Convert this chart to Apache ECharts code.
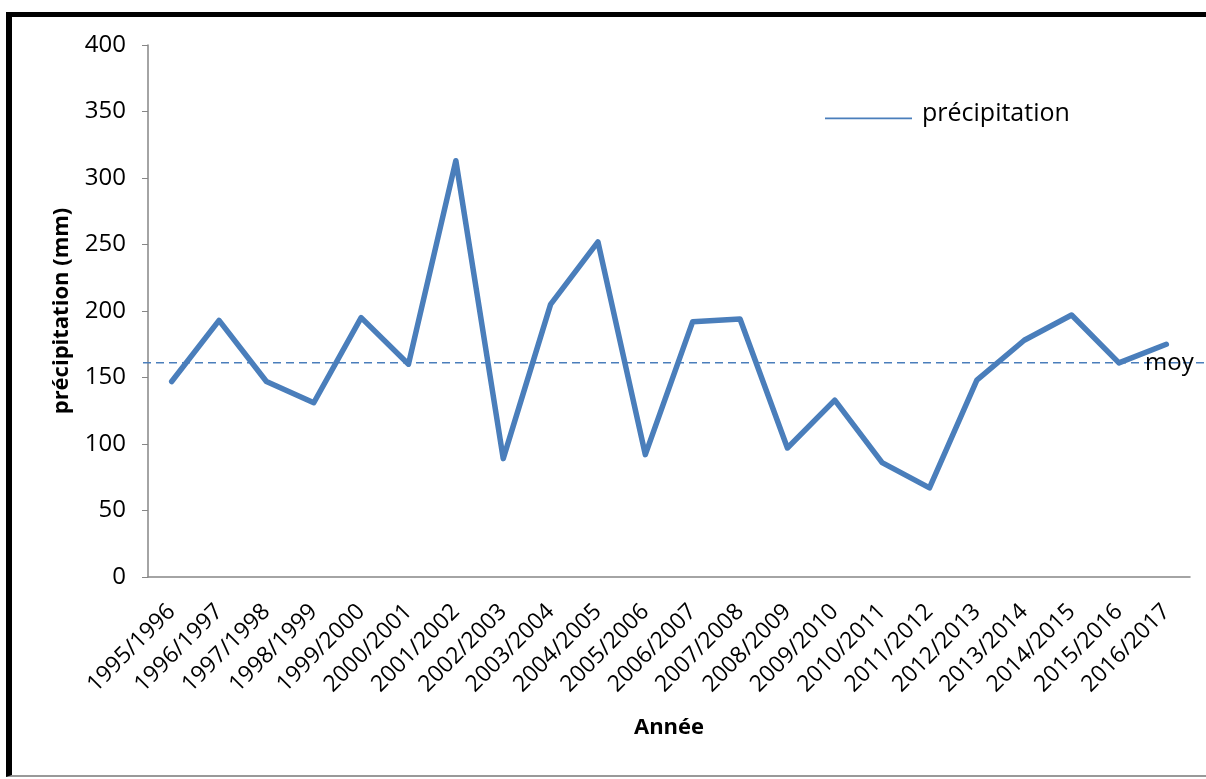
<!DOCTYPE html>
<html>
<head>
<meta charset="utf-8">
<script src="https://cdn.jsdelivr.net/npm/echarts@6/dist/echarts.min.js"></script>
<style>
  html, body { margin: 0; padding: 0; background: #ffffff; }
  #wrap { position: relative; width: 1206px; height: 779px; overflow: hidden; background: #fff; }
  #chart { position: absolute; left: 0; top: 0; width: 1206px; height: 779px; }
  #frame { position: absolute; left: 6px; top: 12px; width: 1300px; height: 765px;
           border-left: 6px solid #000; border-top: 5px solid #000; border-bottom: 2px solid #999;
           box-sizing: border-box; pointer-events: none; }
</style>
</head>
<body>
<div id="wrap">
  <div id="chart"></div>
  <div id="frame"></div>
</div>
<script>
const categories = ['1995/1996','1996/1997','1997/1998','1998/1999','1999/2000','2000/2001','2001/2002','2002/2003','2003/2004','2004/2005','2005/2006','2006/2007','2007/2008','2008/2009','2009/2010','2010/2011','2011/2012','2012/2013','2013/2014','2014/2015','2015/2016','2016/2017'];
const precipitation = [147, 193, 147, 131, 195, 160, 313, 89, 205, 252, 92, 192, 194, 97, 133, 86, 67, 148, 178, 197, 161, 175];
const moyenne = 161;
const yTicks = { min: 0, max: 400, interval: 50 };

const FONT = '"Open Sans", "Liberation Sans", sans-serif';
const chart = echarts.init(document.getElementById('chart'), null, { renderer: 'canvas' });
chart.setOption({
  animation: false,
  backgroundColor: '#ffffff',
  textStyle: { fontFamily: FONT },
  grid: [
    { left: 148, right: 16, top: 45, bottom: 202, containLabel: false },
    { left: 143, right: 0, top: 45, bottom: 202, containLabel: false }
  ],
  legend: {
    data: ['précipitation'],
    left: 820, top: 96,
    icon: 'path://M0,0L0,0M0,11L100,11L100,13L0,13Z',
    itemWidth: 87, itemHeight: 14,
    textStyle: { fontSize: 25, color: '#000', fontFamily: FONT, padding: [0, 0, 0, 5] }
  },
  xAxis: [
    {
      type: 'category', gridIndex: 0, data: categories, boundaryGap: true,
      name: 'Année', nameLocation: 'middle', nameGap: 140,
      nameTextStyle: { fontSize: 22, fontWeight: 'bold', color: '#000', fontFamily: FONT },
      axisLine: { lineStyle: { color: '#868686', width: 1.5 } },
      axisTick: { show: false },
      axisLabel: { rotate: 45, fontSize: 23, color: '#000', margin: 31, interval: 0, fontFamily: FONT },
      splitLine: { show: false }
    },
    { type: 'value', gridIndex: 1, min: 0, max: 1, show: false }
  ],
  yAxis: [
    {
      type: 'value', gridIndex: 0, min: yTicks.min, max: yTicks.max, interval: yTicks.interval,
      name: 'précipitation (mm)', nameLocation: 'middle', nameGap: 75,
      nameTextStyle: { fontSize: 22, fontWeight: 'bold', color: '#000', fontFamily: FONT },
      axisLine: { show: true, lineStyle: { color: '#868686', width: 1.5 } },
      axisTick: { show: true, inside: false, length: 6, lineStyle: { color: '#868686' } },
      axisLabel: { fontSize: 24, color: '#000', margin: 22, fontFamily: FONT },
      splitLine: { show: false }
    },
    { type: 'value', gridIndex: 1, min: yTicks.min, max: yTicks.max, show: false }
  ],
  series: [
    {
      name: 'précipitation', type: 'line', xAxisIndex: 0, yAxisIndex: 0,
      data: precipitation, symbol: 'none', showSymbol: false,
      lineStyle: { color: '#4A7EBB', width: 5.5, join: 'round', cap: 'round' },
      itemStyle: { color: '#4A7EBB' }
    },
    {
      name: 'moy', type: 'line', xAxisIndex: 1, yAxisIndex: 1,
      data: [[0, moyenne], [1, moyenne]], symbol: 'none', showSymbol: false,
      lineStyle: { color: '#4A7EBB', width: 1.5, type: [8, 5] },
      itemStyle: { color: '#4A7EBB' },
      endLabel: { show: true, formatter: 'moy', fontSize: 24, color: '#000', distance: 0, offset: [-61, 0], fontFamily: FONT },
      z: 1
    }
  ]
});
</script>
</body>
</html>
